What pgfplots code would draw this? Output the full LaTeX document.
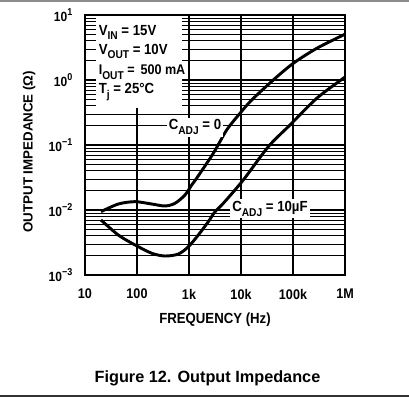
\documentclass[border=0pt]{standalone}
\usepackage{pgfplots}
\pgfplotsset{compat=1.18}
\usepackage{fontspec}
\setmainfont{Liberation Sans}
\newfontfamily\condfont[FakeStretch=0.9]{Liberation Sans}
\newcommand{\mysub}[1]{\raisebox{-0.32em}{\fontsize{8.5}{9}\selectfont #1}}
\newcommand{\mysup}[1]{\raisebox{0.5em}{\fontsize{7.5}{8}\selectfont #1}}

\begin{document}
\begin{tikzpicture}
\path[use as bounding box] (0,0) rectangle (306.75pt,298.5pt);
\fill[white] (0,0) rectangle (306.75pt,298.5pt);
\draw[black!45, line width=1.5pt] (0,297.75pt) -- (306.75pt,297.75pt);
\draw[black!80, line width=1.8pt] (0,1.6pt) -- (306.75pt,1.6pt);
\node[font=\fontsize{12.2}{14}\selectfont\bfseries] at (155.6pt,14.5pt) {Figure 12. Output Impedance};
\begin{axis}[
  at={(63.75pt,92.25pt)}, anchor=south west,
  scale only axis, width=195pt, height=195pt,
  xmode=log, ymode=log,
  xmin=10, xmax=1e6, ymin=1e-3, ymax=10,
  axis line style={black, line width=1.1pt},
  xtick={10,100,1000,10000,100000,1000000},
  xticklabels={10,100,1k,10k,100k,1M},
  ytick={0.001,0.01,0.1,1,10},
  yticklabels={{10\mysup{−3}},{10\mysup{−2}},{10\mysup{−1}},{10\mysup{0}},{10\mysup{1}}},
  minor xtick={},
  minor ytick={0.002,0.003,0.004,0.005,0.006,0.007,0.008,0.009,
               0.02,0.03,0.04,0.05,0.06,0.07,0.08,0.09,
               0.2,0.3,0.4,0.5,0.6,0.7,0.8,0.9,
               2,3,4,5,6,7,8,9},
  major tick length=0pt, minor tick length=0pt,
  xmajorgrids=true, ymajorgrids=true, yminorgrids=true,
  major grid style={black, line width=0.8pt},
  minor grid style={black, line width=0.55pt},
  xticklabel style={font=\condfont\bfseries\fontsize{10.5}{12}\selectfont, yshift=-7pt},
  yticklabel style={font=\condfont\bfseries\fontsize{10}{12}\selectfont, xshift=-6pt},
  xlabel={FREQUENCY (Hz)},
  ylabel={OUTPUT IMPEDANCE (Ω)},
  x label style={at={(axis description cs:0.5,-0.173)}, anchor=center, font=\condfont\bfseries\fontsize{11}{13}\selectfont},
  y label style={at={(axis description cs:-0.215,0.474)}, anchor=center, rotate=0, font=\bfseries\fontsize{10}{12}\selectfont},
]
% white area behind conditions text
\fill[white] (axis cs:16.3,9.75) rectangle (axis cs:733,0.371);

% C_ADJ = 0
\addplot[black, line width=2.2pt, smooth] coordinates {
(20.3,0.00942) (43.7,0.01236) (91.6,0.01343) (191.9,0.01236) (345.1,0.01153)
(538.3,0.01268) (837.5,0.01702) (1127,0.02427) (1406,0.0309) (2931,0.07447)
(5309,0.1702) (9572,0.3076) (16070,0.4920) (41780,1.0) (101400,1.807)
(285800,3.069) (926800,4.920) (1000000,5.07)
};
% C_ADJ = 10uF
\addplot[black, line width=2.2pt, smooth] coordinates {
(20.3,0.00702) (43.7,0.00412) (91.6,0.00290) (191.9,0.00216) (345.1,0.00196)
(622.3,0.00210) (970.5,0.00272) (1510,0.00412) (2350,0.00661) (3162,0.00942)
(4571,0.01268) (11070,0.02897) (33500,0.0942) (87500,0.2032) (285800,0.5224)
(926800,1.062) (1000000,1.10)
};

\node[anchor=base west, font=\condfont\bfseries\fontsize{11}{13}\selectfont, inner sep=0pt] at (axis cs:18.2,4.9) {V\mysub{IN} = 15V};
\node[anchor=base west, font=\condfont\bfseries\fontsize{11}{13}\selectfont, inner sep=0pt] at (axis cs:18.2,2.5) {V\mysub{OUT} = 10V};
\node[anchor=base west, font=\condfont\bfseries\fontsize{10.5}{13}\selectfont, inner sep=0pt, fill=white] at (axis cs:18.2,1.2) {I\mysub{OUT} = \,500 mA};
\node[anchor=base west, font=\condfont\bfseries\fontsize{11}{13}\selectfont, inner sep=0pt] at (axis cs:18.2,0.62) {T\mysub{j} = 25°C};

\node[fill=white, inner sep=1.5pt, font=\condfont\bfseries\fontsize{11}{13}\selectfont] at (axis cs:1303,0.189) {C\mysub{ADJ} = 0};
\node[fill=white, inner sep=1.5pt, font=\condfont\bfseries\fontsize{11}{13}\selectfont] at (axis cs:36100,0.0105) {C\mysub{ADJ} = 10µF};
\end{axis}
\end{tikzpicture}
\end{document}
